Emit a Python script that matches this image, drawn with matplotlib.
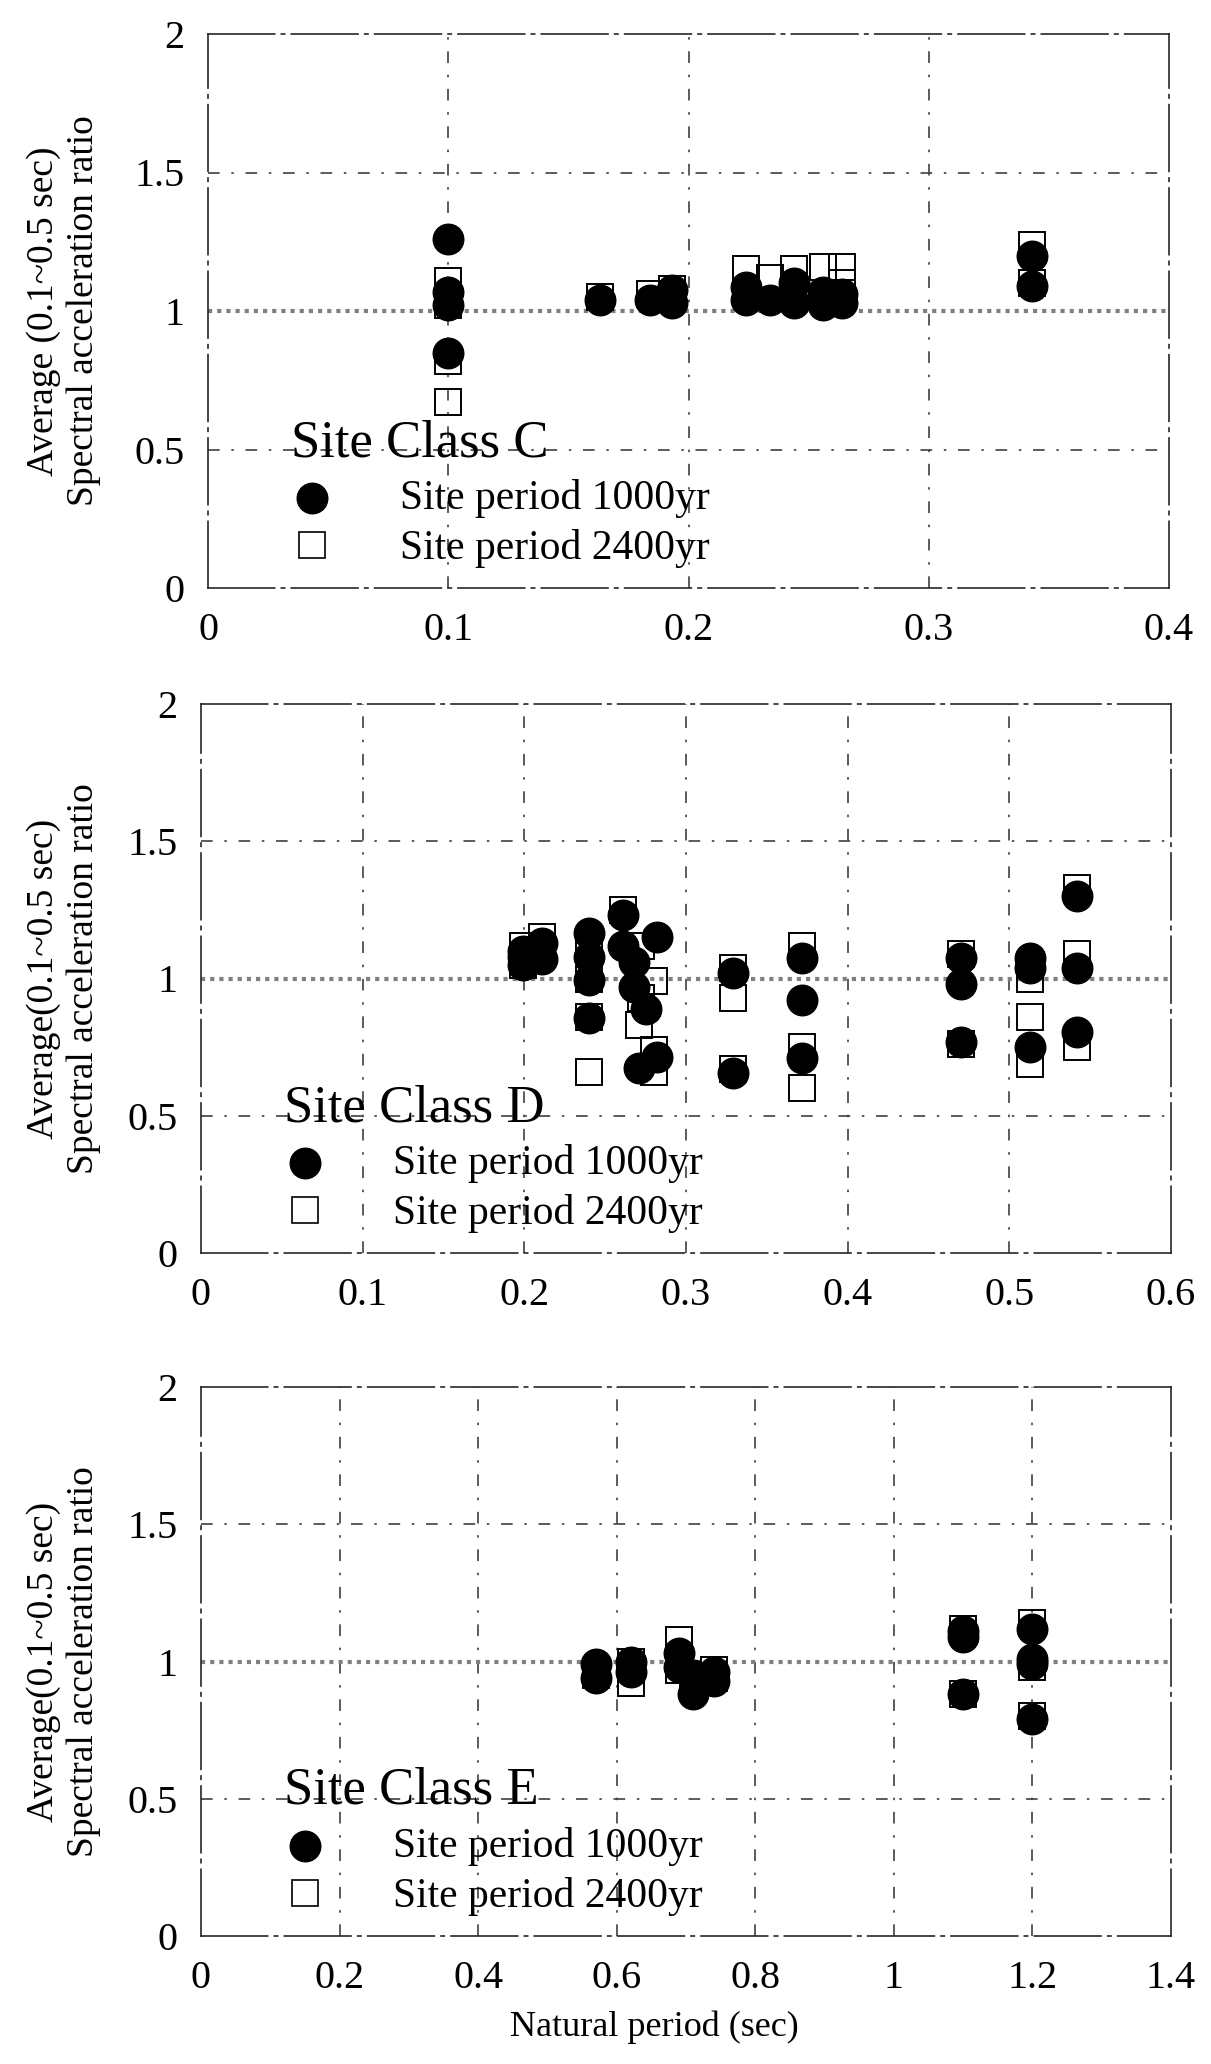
import matplotlib
matplotlib.use("Agg")
import matplotlib.pyplot as plt
from matplotlib.lines import Line2D

plt.rcParams['font.family'] = ['Liberation Serif', 'DejaVu Serif']

# ---- Site Class C ----
c_x_1000 = [0.1, 0.1, 0.1, 0.1, 0.163, 0.184, 0.193, 0.193, 0.224, 0.224, 0.234,
            0.244, 0.244, 0.256, 0.256, 0.264, 0.264, 0.343, 0.343]
c_y_1000 = [1.26, 1.07, 1.02, 0.85, 1.04, 1.04, 1.075, 1.03, 1.085, 1.04, 1.04,
            1.10, 1.03, 1.07, 1.02, 1.06, 1.03, 1.20, 1.09]
c_x_2400 = [0.1, 0.1, 0.1, 0.1, 0.163, 0.184, 0.193, 0.224, 0.234, 0.244, 0.256,
            0.264, 0.264, 0.343, 0.343]
c_y_2400 = [1.11, 1.02, 0.82, 0.67, 1.05, 1.06, 1.08, 1.15, 1.12, 1.15, 1.16,
            1.16, 1.10, 1.24, 1.10]

# ---- Site Class D ----
d_x_1000 = [0.199, 0.199, 0.199, 0.211, 0.211, 0.24, 0.24, 0.24, 0.24,
            0.261, 0.261, 0.268, 0.268, 0.275, 0.282, 0.271, 0.282,
            0.329, 0.329, 0.372, 0.372, 0.372, 0.47, 0.47, 0.47,
            0.513, 0.513, 0.513, 0.542, 0.542, 0.542]
d_y_1000 = [1.05, 1.08, 1.10, 1.13, 1.07, 1.165, 1.08, 0.995, 0.856,
            1.23, 1.12, 1.06, 0.97, 0.89, 1.15, 0.674, 0.714,
            1.02, 0.656, 1.075, 0.92, 0.71, 1.075, 0.98, 0.77,
            1.075, 1.04, 0.75, 1.30, 1.04, 0.805]
d_x_2400 = [0.199, 0.199, 0.211, 0.24, 0.24, 0.24, 0.24, 0.261, 0.272, 0.272,
            0.271, 0.28, 0.28, 0.28, 0.329, 0.329, 0.329, 0.372, 0.372, 0.372,
            0.47, 0.47, 0.513, 0.513, 0.513, 0.542, 0.542, 0.542]
d_y_2400 = [1.12, 1.05, 1.15, 1.13, 1.00, 0.86, 0.66, 1.25, 1.12, 0.93,
            0.83, 0.99, 0.74, 0.66, 1.04, 0.93, 0.67, 1.12, 0.75, 0.60,
            1.09, 0.76, 1.00, 0.86, 0.69, 1.33, 1.09, 0.75]

# ---- Site Class E ----
e_x_1000 = [0.57, 0.57, 0.62, 0.62, 0.69, 0.69, 0.71, 0.71, 0.74, 0.74,
            1.10, 1.10, 1.10, 1.20, 1.20, 1.20, 1.20]
e_y_1000 = [0.99, 0.94, 1.00, 0.96, 1.03, 0.98, 0.88, 0.95, 0.96, 0.93,
            1.11, 1.09, 0.88, 1.12, 1.01, 0.99, 0.79]
e_x_2400 = [0.57, 0.62, 0.62, 0.69, 0.69, 0.71, 0.74, 0.74, 1.10, 1.10,
            1.20, 1.20, 1.20]
e_y_2400 = [0.95, 0.92, 1.00, 1.08, 0.97, 0.92, 0.97, 0.94, 1.12, 0.88,
            1.14, 0.98, 0.80]

x_ticks_c = [0, 0.1, 0.2, 0.3, 0.4]
x_tick_labels_c = ['0', '0.1', '0.2', '0.3', '0.4']
x_ticks_d = [0, 0.1, 0.2, 0.3, 0.4, 0.5, 0.6]
x_tick_labels_d = ['0', '0.1', '0.2', '0.3', '0.4', '0.5', '0.6']
x_ticks_e = [0, 0.2, 0.4, 0.6, 0.8, 1.0, 1.2, 1.4]
x_tick_labels_e = ['0', '0.2', '0.4', '0.6', '0.8', '1', '1.2', '1.4']
y_ticks = [0, 0.5, 1.0, 1.5, 2.0]
y_tick_labels = ['0', '0.5', '1', '1.5', '2']

class_names = ['Site Class C', 'Site Class D', 'Site Class E']
series_names = ['Site period 1000yr', 'Site period 2400yr']
ylabels = ['Average (0.1~0.5 sec)\nSpectral acceleration ratio',
           'Average(0.1~0.5 sec)\nSpectral acceleration ratio',
           'Average(0.1~0.5 sec)\nSpectral acceleration ratio']
xlabel = 'Natural period (sec)'

W, H = 1211, 2064
fig = plt.figure(figsize=(W / 100, H / 100), dpi=100)

# axes rectangles in pixels: left, top, right, bottom
rects = [(208, 34, 1169, 588), (201, 704, 1171, 1253), (201, 1387, 1171, 1936)]

panels = [
    (c_x_1000, c_y_1000, c_x_2400, c_y_2400, x_ticks_c, x_tick_labels_c),
    (d_x_1000, d_y_1000, d_x_2400, d_y_2400, x_ticks_d, x_tick_labels_d),
    (e_x_1000, e_y_1000, e_x_2400, e_y_2400, x_ticks_e, x_tick_labels_e),
]

grid_style = (0, (7, 7, 1.5, 7))
frame_style = (0, (40, 4, 2, 4))
fs_tick = 29

for i, (rect, pdata) in enumerate(zip(rects, panels)):
    l, t, r, b = rect
    ax = fig.add_axes([l / W, 1 - b / H, (r - l) / W, (b - t) / H])
    x1, y1, x2, y2, xt, xtl = pdata

    ax.set_xlim(xt[0], xt[-1])
    ax.set_ylim(0, 2)
    ax.set_xticks(xt)
    ax.set_xticklabels(xtl)
    ax.set_yticks(y_ticks)
    ax.set_yticklabels(y_tick_labels)
    ax.tick_params(length=0, labelsize=fs_tick, pad=17)

    for s in ax.spines.values():
        s.set_linewidth(1.2)
        s.set_linestyle(frame_style)
        s.set_color('0.15')

    for xv in xt[1:-1]:
        ax.axvline(xv, color='0.25', lw=1.2, ls=grid_style, zorder=1)
    for yv in [0.5, 1.5]:
        ax.axhline(yv, color='0.25', lw=1.2, ls=grid_style, zorder=1)
    ax.axhline(1.0, color='0.5', lw=3, ls=(0, (1, 1.2)), zorder=1)

    ax.plot(x2, y2, ls='none', marker='s', ms=19, mfc='none', mec='black',
            mew=1.4, zorder=3)
    ax.plot(x1, y1, ls='none', marker='o', ms=22, mfc='black', mec='black',
            zorder=4)

    h = b - t
    w = r - l
    # two-line y-axis title
    ax.text((64 - l) / w, 0.5, ylabels[i], transform=ax.transAxes,
            rotation=90, ha='center', va='center', multialignment='center',
            fontsize=27, linespacing=1.2)

    # legend block drawn inside the axes
    ax.text(83 / w, 132 / h, class_names[i], transform=ax.transAxes,
            fontsize=38, va='baseline', ha='left')
    ax.add_line(Line2D([104 / w], [90 / h], transform=ax.transAxes, ls='none',
                       marker='o', ms=22, mfc='black', mec='black'))
    ax.add_line(Line2D([104 / w], [43 / h], transform=ax.transAxes, ls='none',
                       marker='s', ms=19, mfc='none', mec='black', mew=1.2))
    ax.text(192 / w, 79 / h, series_names[0], transform=ax.transAxes,
            fontsize=30, va='baseline', ha='left')
    ax.text(192 / w, 29 / h, series_names[1], transform=ax.transAxes,
            fontsize=30, va='baseline', ha='left')

fig.text(654 / W, 1 - 2027 / H, xlabel, fontsize=26, ha='center', va='center')

fig.savefig('out.png', dpi=100)
